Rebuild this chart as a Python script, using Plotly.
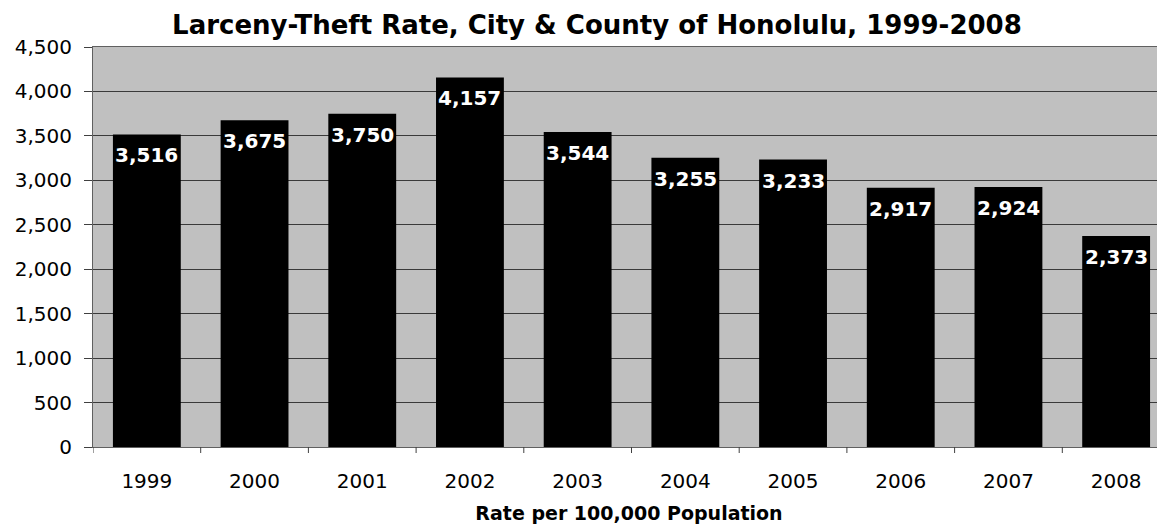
import plotly.graph_objects as go

years = ["1999", "2000", "2001", "2002", "2003", "2004", "2005", "2006", "2007", "2008"]
rates = [3516, 3675, 3750, 4157, 3544, 3255, 3233, 2917, 2924, 2373]
y_ticks = [0, 500, 1000, 1500, 2000, 2500, 3000, 3500, 4000, 4500]

FONT = "DejaVu Sans, Arial, sans-serif"

fig = go.Figure()
fig.add_trace(go.Bar(
    x=list(range(len(years))), y=rates,
    marker=dict(color="black", line=dict(width=0)),
    hoverinfo="skip",
))

for i, v in enumerate(rates):
    fig.add_annotation(
        x=i, y=v, xref="x", yref="y",
        text=f"<b>{v:,}</b>", showarrow=False,
        yanchor="middle", yshift=-21,
        font=dict(family=FONT, size=20, color="white"),
    )

# page body has an 8px margin, so the figure is sized/offset accordingly
fig.update_layout(
    width=1157, height=519,
    margin=dict(l=85, r=0, t=39, b=80),
    paper_bgcolor="white",
    plot_bgcolor="#c0c0c0",
    bargap=0.37,
    showlegend=False,
    title=dict(
        text="<b>Larceny-Theft Rate, City &amp; County of Honolulu, 1999-2008</b>",
        x=0.509, xanchor="center", y=1 - 17 / 519, yanchor="middle",
        yref="container",
        font=dict(family=FONT, size=26, color="black"),
    ),
    font=dict(family=FONT, color="black"),
)

fig.update_xaxes(
    tickmode="array",
    tickvals=list(range(len(years))),
    ticktext=years,
    range=[-0.5, 9.4536],
    ticks="", showgrid=False,
    showline=True, linecolor="#606060", linewidth=1, mirror=True,
    zeroline=False,
    tickfont=dict(family=FONT, size=20, color="black"),
    ticklabelstandoff=16,
    title=dict(text="<b>Rate per 100,000 Population</b>",
               font=dict(family=FONT, size=19, color="black"), standoff=14),
)

# category boundary tick marks below the x axis
for i in range(len(years)):
    fig.add_shape(type="line", xref="x", yref="paper",
                  x0=i - 0.5, x1=i - 0.5, y0=0, y1=-0.015,
                  line=dict(color="#404040", width=1))

fig.update_yaxes(
    range=[0, 4500],
    tickvals=y_ticks,
    tickformat=",",
    ticks="outside", ticklen=8, tickcolor="#404040", tickwidth=1,
    showline=True, linecolor="#606060", linewidth=1,
    showgrid=True, gridcolor="#3a3a3a", gridwidth=1,
    zeroline=False,
    tickfont=dict(family=FONT, size=20, color="black"),
    ticklabelstandoff=8,
)

fig.write_html("out.html")
